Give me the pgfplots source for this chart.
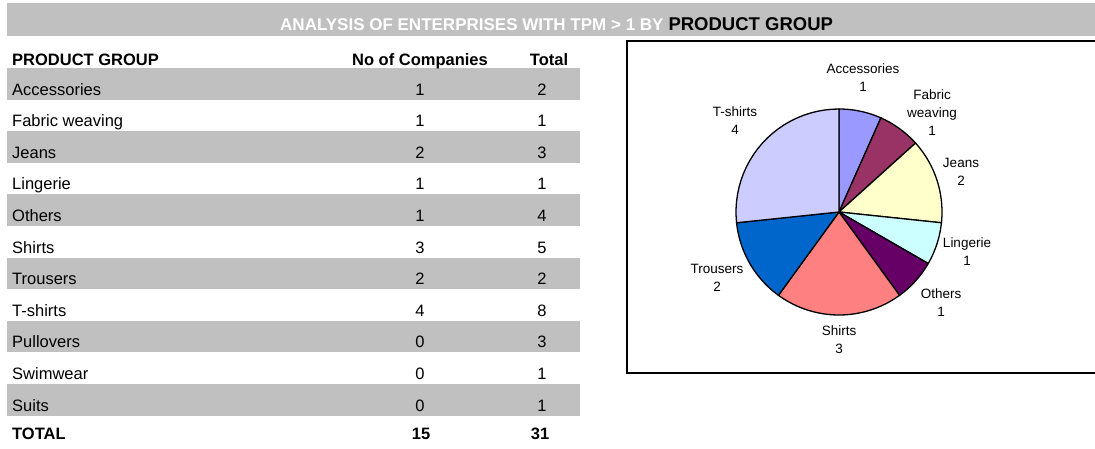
\documentclass[border=0pt]{standalone}
\usepackage{pgfplots}
\pgfplotsset{compat=1.18}
\usepackage{pgfplotstable}
\usepackage{fontspec}
\setmainfont{Liberation Sans}
\definecolor{bandgray}{HTML}{C0C0C0}
\definecolor{pieA}{HTML}{9999FF}
\definecolor{pieB}{HTML}{993366}
\definecolor{pieC}{HTML}{FFFFCC}
\definecolor{pieD}{HTML}{CCFFFF}
\definecolor{pieE}{HTML}{660066}
\definecolor{pieF}{HTML}{FF8080}
\definecolor{pieG}{HTML}{0066CC}
\definecolor{pieH}{HTML}{CCCCFF}

% companies per product group (pie), clockwise from 12 o'clock
\pgfplotstableread{
label    count colour
Accessories 1  pieA
Fabric      1  pieB
Jeans       2  pieC
Lingerie    1  pieD
Others      1  pieE
Shirts      3  pieF
Trousers    2  pieG
T-shirts    4  pieH
}\piedata

\begin{document}
\begin{tikzpicture}
\begin{scope}[x=1pt,y=-1pt]
\useasboundingbox (0,0) rectangle (1095,448);
% title bar
\fill[bandgray] (7,3) rectangle (1100,36);
\node[anchor=base west,inner sep=0pt,font=\bfseries] at (280,30)
  {\textcolor{white}{\fontsize{17}{20}\selectfont ANALYSIS OF ENTERPRISES WITH TPM > 1 BY}\hspace{5pt}\fontsize{18.5}{20}\selectfont PRODUCT GROUP};
% table bands
\foreach \i in {0,2,4,6,8,10}
  \fill[bandgray] (7,{68+31.6*\i}) rectangle (580,{99.6+31.6*\i});
% header
\begin{scope}[every node/.style={inner sep=0pt,font=\fontsize{16.5}{20}\selectfont\bfseries}]
\node[anchor=base west] at (12,65) {PRODUCT GROUP};
\node[anchor=base] at (420,65) {No of Companies};
\node[anchor=base] at (549,65) {Total};
\node[anchor=base west] at (12,439) {TOTAL};
\node[anchor=base] at (421,439) {15};
\node[anchor=base] at (540,439) {31};
\end{scope}
\begin{scope}[every node/.style={inner sep=0pt,font=\fontsize{16.5}{20}\selectfont}]
\foreach \name/\n/\t [count=\i from 0] in {Accessories/1/2, Fabric weaving/1/1, Jeans/2/3,
    Lingerie/1/1, Others/1/4, Shirts/3/5, Trousers/2/2, T-shirts/4/8,
    Pullovers/0/3, Swimwear/0/1, Suits/0/1}{
  \node[anchor=base west] at (12,{95+31.6*\i}) {\name};
  \node[anchor=base] at (420,{95+31.6*\i}) {\n};
  \node[anchor=base] at (542,{95+31.6*\i}) {\t};
}
\end{scope}
% chart frame
\draw[line width=1.2pt] (627,41) rectangle (1110,373);
% pie labels
\begin{scope}[every node/.style={inner sep=0pt,align=center,font=\fontsize{13.5}{18}\selectfont}]
\node at (863,78) {Accessories\\1};
\node at (932,113) {Fabric\\weaving\\1};
\node at (961,172) {Jeans\\2};
\node at (967,252) {Lingerie\\1};
\node at (941,303) {Others\\1};
\node at (839,340) {Shirts\\3};
\node at (717,278) {Trousers\\2};
\node at (735,121) {T-shirts\\4};
\end{scope}
\end{scope}

\begin{axis}[
    at={(839pt,-212pt)}, anchor=center,
    width=206pt, height=206pt, scale only axis,
    hide axis, clip=false,
    xmin=-1, xmax=1, ymin=-1, ymax=1,
]
\pgfplotstablegetrowsof{\piedata}
\pgfmathtruncatemacro\lastrow{\pgfplotsretval-1}
\def\total{0}
\pgfplotsforeachungrouped \i in {0,...,\lastrow}{%
  \pgfplotstablegetelem{\i}{count}\of\piedata
  \pgfmathsetmacro\total{\total+\pgfplotsretval}%
}
\def\cum{0}
\pgfplotsforeachungrouped \i in {0,...,\lastrow}{%
  \pgfplotstablegetelem{\i}{count}\of\piedata \let\cnt\pgfplotsretval
  \pgfplotstablegetelem{\i}{colour}\of\piedata \let\col\pgfplotsretval
  \pgfmathsetmacro\angA{90-360*\cum/\total}%
  \pgfmathsetmacro\cum{\cum+\cnt}%
  \pgfmathsetmacro\angB{90-360*\cum/\total}%
  \def\pts{(0,0)}%
  \pgfplotsforeachungrouped \k in {0,...,24}{%
    \pgfmathsetmacro\t{\angA+(\angB-\angA)*\k/24}%
    \pgfmathsetmacro\px{cos(\t)}%
    \pgfmathsetmacro\py{sin(\t)}%
    \edef\pts{\pts (\px,\py)}%
  }%
  \edef\cmd{\noexpand\addplot[mark=none,draw=black,line width=1.3pt,fill=\col] coordinates {\pts} -- cycle;}%
  \cmd
}
\end{axis}
\end{tikzpicture}
\end{document}
